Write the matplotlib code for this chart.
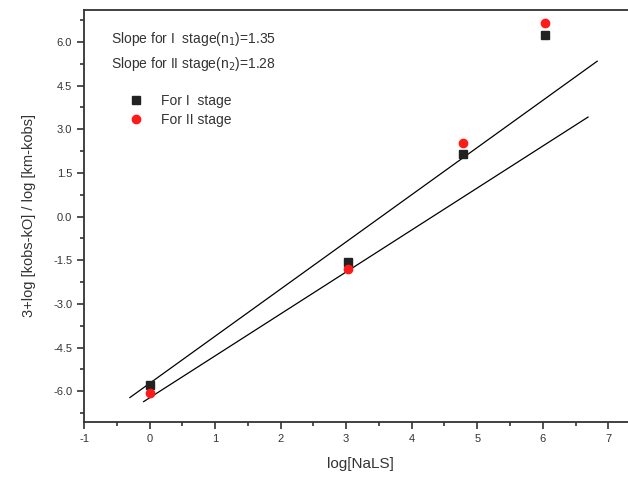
import matplotlib
matplotlib.use('Agg')
import matplotlib.pyplot as plt
import numpy as np
from matplotlib.ticker import MultipleLocator, FormatStrFormatter

# data
x_stage1 = [0.0, 3.03, 4.78, 6.04]
y_stage1 = [-5.80, -1.57, 2.14, 6.25]
x_stage2 = [0.0, 3.03, 4.78, 6.04]
y_stage2 = [-6.07, -1.80, 2.53, 6.64]

# fitted lines (end points)
fit1_x = [-0.30, 6.83]
fit1_y = [-6.22, 5.34]
fit2_x = [-0.09, 6.69]
fit2_y = [-6.36, 3.42]

plt.rcParams['font.family'] = ['Liberation Sans', 'DejaVu Sans']
plt.rcParams['axes.unicode_minus'] = False

fig = plt.figure(figsize=(6.28, 4.82), dpi=100)
ax = fig.add_axes([84/628, 1-421.7/482, 1-84/628, (421.7-10)/482])

ax.plot(fit1_x, fit1_y, color='black', lw=0.9)
ax.plot(fit2_x, fit2_y, color='black', lw=0.9)

ax.plot(x_stage1, y_stage1, 's', color='#222222', ms=6, label='For I  stage')
ax.plot(x_stage2, y_stage2, 'o', color='#ff1a1a', ms=6, label='For II stage')

ax.set_xlim(-1, 7.3)
ax.set_ylim(-7.05, 7.1)
ax.xaxis.set_major_locator(MultipleLocator(1))
ax.xaxis.set_minor_locator(MultipleLocator(0.5))
ax.yaxis.set_major_locator(MultipleLocator(1.5))
ax.yaxis.set_minor_locator(MultipleLocator(0.75))
ax.yaxis.set_major_formatter(FormatStrFormatter('%.1f'))

ax.tick_params(which='both', direction='out', labelsize=8, colors='#333333', width=1.2)
ax.tick_params(which='major', length=5)
ax.tick_params(which='minor', length=3)
for s in ['left', 'bottom', 'top']:
    ax.spines[s].set_linewidth(1.3)
    ax.spines[s].set_color('#333333')
ax.spines['right'].set_visible(False)

ax.set_xlabel('log[NaLS]', fontsize=11, color='#333333', labelpad=10)
ax.set_ylabel('3+log [kobs-kO] / log [km-kobs]', fontsize=10.5, color='#333333', labelpad=12)
ax.xaxis.set_label_coords((360-84)/(628-84), -0.085)

ax.text(0.05, 0.93, r'Slope for I  stage(n$_1$)=1.35', transform=ax.transAxes,
        fontsize=10, color='#333333', va='center')
ax.text(0.05, 0.87, r'Slope for II stage(n$_2$)=1.28', transform=ax.transAxes,
        fontsize=10, color='#333333', va='center')

leg = ax.legend(loc='upper left', bbox_to_anchor=(0.07, 0.81), frameon=False,
                fontsize=10, handletextpad=1.2, labelspacing=0.35, borderaxespad=0,
                handlelength=1.2)
for t in leg.get_texts():
    t.set_color('#333333')

fig.savefig('out.png', dpi=100)
